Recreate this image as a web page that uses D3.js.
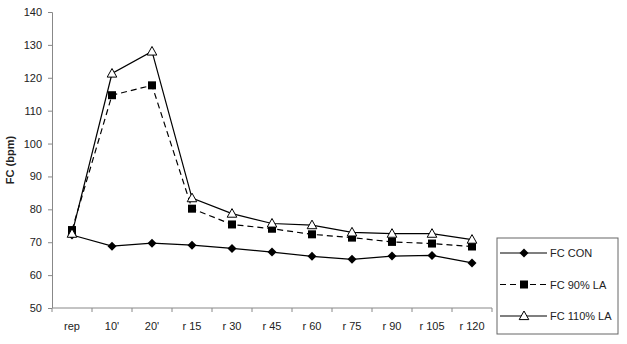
<!DOCTYPE html>
<html>
<head>
<meta charset="utf-8">
<script src="https://cdn.jsdelivr.net/npm/d3@7"></script>
<style>
  body { margin: 0; background: #fff; }
  svg { font-family: "Liberation Sans", Arial, sans-serif; }
  .axis path, .axis line { stroke: #888; }
  .axis text { fill: #222; font-size: 11px; }
</style>
</head>
<body>
<svg width="627" height="344"></svg>
<script>
// categories on the x axis
var categories = ["rep", "10'", "20'", "r 15", "r 30", "r 45", "r 60", "r 75", "r 90", "r 105", "r 120"];

// heart rate series (bpm)
var fcCon   = [72.2, 68.8, 69.7, 69.1, 68.1, 67.0, 65.7, 64.8, 65.8, 66.0, 63.7];
var fc90    = [73.7, 114.7, 117.7, 80.2, 75.4, 74.1, 72.4, 71.4, 70.1, 69.6, 68.7];
var fc110   = [72.6, 121.3, 128.0, 83.4, 78.7, 75.7, 75.2, 73.0, 72.6, 72.6, 70.8];

var seriesNames = ["FC CON", "FC 90% LA", "FC 110% LA"];
var yTicks = [50, 60, 70, 80, 90, 100, 110, 120, 130, 140];

var svg = d3.select("svg"),
    margin = {top: 12, left: 52},
    width = 440,
    height = 296,
    g = svg.append("g").attr("transform", "translate(" + margin.left + "," + margin.top + ")");

var x = d3.scaleBand()
    .domain(categories)
    .range([0, width]);

var y = d3.scaleLinear()
    .domain([50, 140])
    .range([height, 0]);

// x axis: ticks sit between categories
var xAxis = g.append("g")
    .attr("class", "axis")
    .attr("transform", "translate(0," + height + ")");
xAxis.append("line")
    .attr("x1", 0).attr("x2", width)
    .attr("stroke", "#888");
xAxis.selectAll(".sep")
    .data(d3.range(categories.length + 1))
    .enter().append("line")
    .attr("x1", function(i) { return i * x.step(); })
    .attr("x2", function(i) { return i * x.step(); })
    .attr("y1", 0).attr("y2", 4)
    .attr("stroke", "#888");
xAxis.selectAll("text")
    .data(categories)
    .enter().append("text")
    .attr("x", function(d) { return x(d) + x.bandwidth() / 2; })
    .attr("y", 22)
    .attr("text-anchor", "middle")
    .text(function(d) { return d; });

g.append("g")
    .attr("class", "axis")
    .call(d3.axisLeft(y).tickValues(yTicks).tickSize(4).tickPadding(4))
    .call(function(a) { a.select(".domain").attr("d", "M-4,0.5H0.5V" + height); })
    .selectAll("text").attr("dx", "-2");

svg.append("text")
    .attr("transform", "translate(14," + (margin.top + height / 2) + ") rotate(-90)")
    .attr("text-anchor", "middle")
    .style("font-size", "11px")
    .style("font-weight", "bold")
    .attr("fill", "#222")
    .text("FC (bpm)");

var line = d3.line()
    .x(function(d, i) { return x(categories[i]) + x.bandwidth() / 2; })
    .y(function(d) { return y(d); });

var series = [
  {name: seriesNames[0], values: fcCon, dash: null, marker: "diamond"},
  {name: seriesNames[1], values: fc90, dash: "6,4", marker: "square"},
  {name: seriesNames[2], values: fc110, dash: null, marker: "triangle"}
];

function drawMarker(sel, type) {
  if (type === "diamond") {
    sel.append("path").attr("d", "M0,-4.5L4.5,0L0,4.5L-4.5,0Z").attr("fill", "#000");
  } else if (type === "square") {
    sel.append("rect").attr("x", -4).attr("y", -4).attr("width", 8).attr("height", 8).attr("fill", "#000");
  } else {
    sel.append("path").attr("d", "M0,-5L4.8,3.6L-4.8,3.6Z")
      .attr("fill", "#fff").attr("stroke", "#000").attr("stroke-width", 1);
  }
}

series.forEach(function(s) {
  g.append("path")
    .datum(s.values)
    .attr("fill", "none")
    .attr("stroke", "#000")
    .attr("stroke-width", 1.2)
    .attr("stroke-dasharray", s.dash)
    .attr("d", line);
  g.selectAll(null)
    .data(s.values)
    .enter().append("g")
    .attr("transform", function(d, i) {
      return "translate(" + (x(categories[i]) + x.bandwidth() / 2) + "," + y(d) + ")";
    })
    .each(function() { drawMarker(d3.select(this), s.marker); });
});

// legend
var legend = svg.append("g").attr("transform", "translate(497,238)");
legend.append("rect")
    .attr("width", 121).attr("height", 96)
    .attr("fill", "#fff").attr("stroke", "#666");
series.forEach(function(s, i) {
  var row = legend.append("g").attr("transform", "translate(0," + (15 + i * 31.5) + ")");
  row.append("line")
    .attr("x1", 3).attr("x2", 50)
    .attr("stroke", "#000").attr("stroke-width", 1.2)
    .attr("stroke-dasharray", s.dash);
  var m = row.append("g").attr("transform", "translate(27,0)");
  drawMarker(m, s.marker);
  row.append("text")
    .attr("x", 53).attr("y", 4)
    .style("font-size", "11px")
    .attr("fill", "#222")
    .text(s.name);
});
</script>
</body>
</html>
